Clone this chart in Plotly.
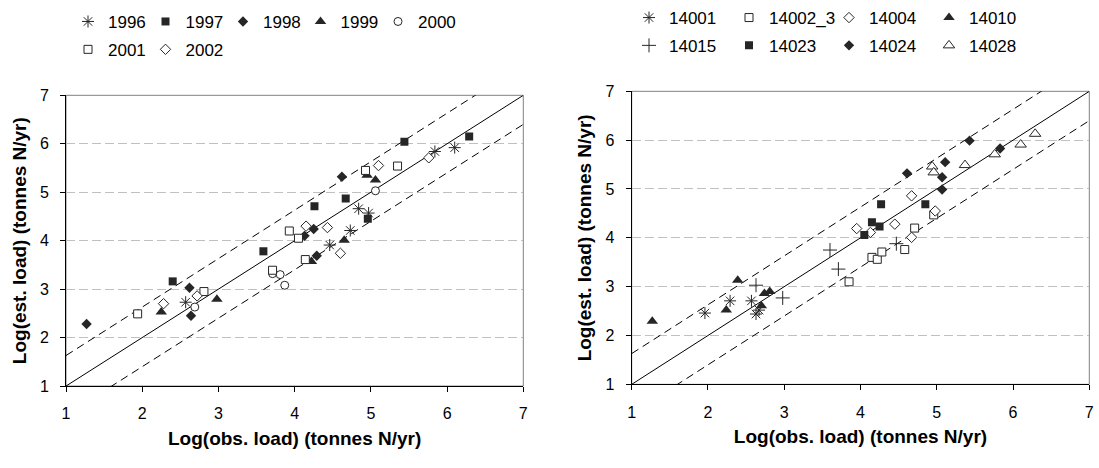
import plotly.graph_objects as go

# ---------------- data ----------------
# Left panel: grouped by year
obs_1996 = [2.57, 4.46, 4.73, 4.84, 4.97, 5.84, 6.10]
est_1996 = [2.73, 3.91, 4.21, 4.66, 4.57, 5.84, 5.92]
obs_1997 = [2.40, 3.59, 4.26, 4.67, 4.96, 5.44, 6.29]
est_1997 = [3.16, 3.78, 4.71, 4.87, 4.45, 6.04, 6.15]
obs_1998 = [1.27, 2.62, 2.64, 4.13, 4.25, 4.29, 4.62]
est_1998 = [2.28, 3.03, 2.45, 4.10, 4.24, 3.69, 5.32]
obs_1999 = [2.25, 2.98, 4.22, 4.65, 4.95, 5.06]
est_1999 = [2.53, 2.79, 3.57, 4.01, 5.35, 5.25]
obs_2000 = [2.69, 3.71, 3.81, 3.87, 5.06]
est_2000 = [2.63, 3.32, 3.30, 3.08, 5.03]
obs_2001 = [1.94, 2.81, 3.71, 3.93, 4.05, 4.14, 4.93, 5.35]
est_2001 = [2.49, 2.95, 3.39, 4.20, 4.05, 3.61, 5.45, 5.54]
obs_2002 = [2.28, 2.72, 4.15, 4.43, 4.60, 5.10, 5.76]
est_2002 = [2.70, 2.86, 4.30, 4.27, 3.74, 5.55, 5.71]

# Right panel: grouped by station
obs_14001 = [1.96, 2.29, 2.57, 2.63, 2.67]
est_14001 = [2.46, 2.71, 2.71, 2.44, 2.52]
obs_14002_3 = [3.85, 4.15, 4.22, 4.28, 4.58, 4.71, 4.96]
est_14002_3 = [3.10, 3.60, 3.56, 3.71, 3.76, 4.20, 4.47]
obs_14004 = [3.95, 4.13, 4.45, 4.67, 4.67, 4.98]
est_14004 = [4.19, 4.11, 4.28, 4.86, 4.01, 4.55]
obs_14010 = [1.27, 2.24, 2.39, 2.70, 2.74, 2.81]
est_14010 = [2.29, 2.52, 3.13, 2.61, 2.86, 2.90]
obs_14015 = [2.63, 2.98, 3.60, 3.71, 4.47]
est_14015 = [3.03, 2.77, 3.75, 3.36, 3.88]
obs_14023 = [4.05, 4.15, 4.25, 4.27, 4.85]
est_14023 = [4.06, 4.32, 4.23, 4.69, 4.69]
obs_14024 = [4.61, 5.07, 5.11, 5.07, 5.43, 5.83]
est_14024 = [5.32, 5.24, 5.55, 4.99, 5.99, 5.83]
obs_14028 = [4.94, 4.96, 5.37, 5.76, 6.10, 6.29]
est_14028 = [5.46, 5.34, 5.49, 5.71, 5.91, 6.13]

# 1:1 line and prediction band offsets
ref_x = [1, 7]
upper_offset = 0.63
lower_offset = -0.60

tick_vals = [1, 2, 3, 4, 5, 6, 7]
x_title = "Log(obs. load) (tonnes N/yr)"
y_title = "Log(est. load) (tonnes N/yr)"

# ---------------- styling ----------------
FONT = "Liberation Sans, Arial, sans-serif"
DARK = "#262626"
W, H = 1099, 468

def sty(symbol, filled, size):
    if symbol == "asterisk-open" or symbol == "cross-thin-open":
        return dict(symbol=symbol, size=size, color=DARK, line=dict(color=DARK, width=1))
    if filled:
        return dict(symbol=symbol, size=size, color=DARK, line=dict(color=DARK, width=0))
    return dict(symbol=symbol, size=size, color="white", line=dict(color=DARK, width=1))

left_series = [
    ("1996", obs_1996, est_1996, sty("asterisk-open", False, 10), "legend"),
    ("1997", obs_1997, est_1997, sty("square", True, 8), "legend"),
    ("1998", obs_1998, est_1998, sty("diamond", True, 8), "legend"),
    ("1999", obs_1999, est_1999, sty("triangle-up", True, 10), "legend"),
    ("2000", obs_2000, est_2000, sty("circle", False, 8), "legend"),
    ("2001", obs_2001, est_2001, sty("square", False, 8), "legend2"),
    ("2002", obs_2002, est_2002, sty("diamond", False, 8), "legend2"),
]
right_series = [
    ("14001", obs_14001, est_14001, sty("asterisk-open", False, 10), "legend3"),
    ("14002_3", obs_14002_3, est_14002_3, sty("square", False, 8), "legend3"),
    ("14004", obs_14004, est_14004, sty("diamond", False, 8), "legend3"),
    ("14010", obs_14010, est_14010, sty("triangle-up", True, 10), "legend3"),
    ("14015", obs_14015, est_14015, sty("cross-thin-open", False, 10), "legend4"),
    ("14023", obs_14023, est_14023, sty("square", True, 8), "legend4"),
    ("14024", obs_14024, est_14024, sty("diamond", True, 8), "legend4"),
    ("14028", obs_14028, est_14028, sty("triangle-up", False, 10), "legend4"),
]

fig = go.Figure()

for xa, ya in (("x", "y"), ("x2", "y2")):
    fig.add_trace(go.Scatter(x=ref_x, y=ref_x, mode="lines", xaxis=xa, yaxis=ya,
                             line=dict(color="black", width=1), showlegend=False, hoverinfo="skip"))
    fig.add_trace(go.Scatter(x=ref_x, y=[v + upper_offset for v in ref_x], mode="lines",
                             xaxis=xa, yaxis=ya, line=dict(color="black", width=1, dash="8px,5px"),
                             showlegend=False, hoverinfo="skip"))
    fig.add_trace(go.Scatter(x=ref_x, y=[v + lower_offset for v in ref_x], mode="lines",
                             xaxis=xa, yaxis=ya, line=dict(color="black", width=1, dash="8px,5px"),
                             showlegend=False, hoverinfo="skip"))

for name, xs, ys, mk, lg in left_series:
    fig.add_trace(go.Scatter(x=xs, y=ys, mode="markers", name=name, marker=mk,
                             xaxis="x", yaxis="y", legend=lg))
for name, xs, ys, mk, lg in right_series:
    fig.add_trace(go.Scatter(x=xs, y=ys, mode="markers", name=name, marker=mk,
                             xaxis="x2", yaxis="y2", legend=lg))

# plot-area pixel boxes (left, right, top, bottom)
L_box = (66, 523.3, 93.7, 385.7)
R_box = (631.7, 1089.3, 89.7, 384)

def xdom(b):
    return [b[0] / W, b[1] / W]

def ydom(b):
    return [1 - b[3] / H, 1 - b[2] / H]

title_font = dict(family=FONT, size=19, color="black", weight="bold")
axis_common = dict(range=[1, 7], tickvals=tick_vals, showline=True, linecolor="black",
                   linewidth=1, ticks="outside", ticklen=5, tickcolor="black",
                   tickfont=dict(family=FONT, size=16, color="black"), zeroline=False,
                   automargin=False)

fig.update_layout(
    width=W, height=H, margin=dict(l=0, r=0, t=0, b=0),
    paper_bgcolor="white", plot_bgcolor="white",
    font=dict(family=FONT, color="black"),
    xaxis=dict(domain=xdom(L_box), anchor="y", showgrid=False, ticklabelstandoff=8,
               title=dict(text=x_title, font=title_font, standoff=10),
               **axis_common),
    yaxis=dict(domain=ydom(L_box), anchor="x", showgrid=True, gridcolor="#c0c0c0",
               griddash="9px,4px", gridwidth=1, ticklabelstandoff=8,
               title=dict(text=y_title, font=title_font, standoff=8),
               **axis_common),
    xaxis2=dict(domain=xdom(R_box), anchor="y2", showgrid=False, ticklabelstandoff=8,
                title=dict(text=x_title, font=title_font, standoff=10),
                **axis_common),
    yaxis2=dict(domain=ydom(R_box), anchor="x2", showgrid=True, gridcolor="#c0c0c0",
                griddash="9px,4px", gridwidth=1, ticklabelstandoff=8,
                title=dict(text=y_title, font=title_font, standoff=8),
                **axis_common),
)

# gray plot-area border (top/right)
for xr, yr in (("x domain", "y domain"), ("x2 domain", "y2 domain")):
    fig.add_shape(type="rect", xref=xr, yref=yr, x0=0, x1=1, y0=0, y1=1,
                  line=dict(color="#808080", width=1), layer="below")

leg_common = dict(orientation="h", xanchor="left", yanchor="middle", bgcolor="rgba(0,0,0,0)",
                  font=dict(family=FONT, size=17, color="black"), itemsizing="trace",
                  entrywidthmode="pixels", indentation=-9)
fig.update_layout(
    legend=dict(x=77 / W, y=1 - 20 / H, entrywidth=41.5, **leg_common),
    legend2=dict(x=77 / W, y=1 - 48 / H, entrywidth=41.5, **leg_common),
    legend3=dict(x=638 / W, y=1 - 16 / H, entrywidth=64, **leg_common),
    legend4=dict(x=638 / W, y=1 - 44 / H, entrywidth=64, **leg_common),
)

fig.write_html("out.html")
